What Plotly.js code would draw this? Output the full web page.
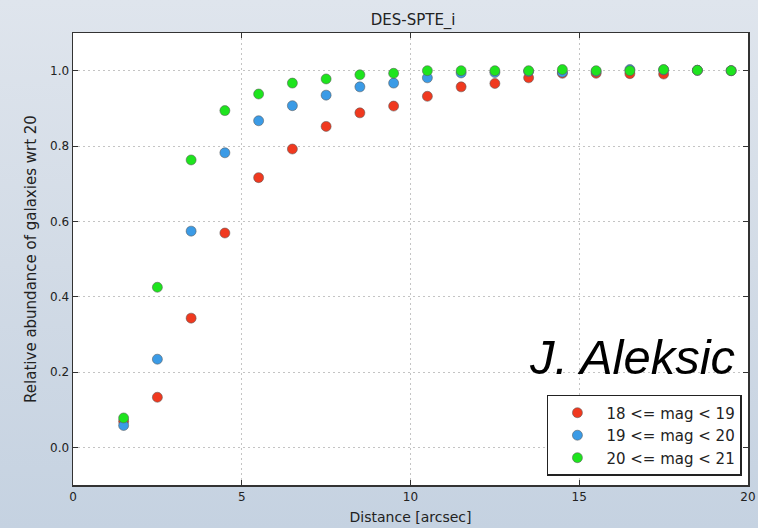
<!DOCTYPE html>
<html>
<head>
<meta charset="utf-8">
<script src="https://cdn.plot.ly/plotly-3.0.1.min.js"></script>
<style>
html,body{margin:0;padding:0;}
body{width:758px;height:528px;background:linear-gradient(180deg,#dfe5ed 0%,#d2dbe6 50%,#c5d2e1 100%);}
#chart{width:758px;height:528px;}
</style>
</head>
<body>
<div id="chart"></div>
<script>
const distance = [1.5,2.5,3.5,4.5,5.5,6.5,7.5,8.5,9.5,10.5,11.5,12.5,13.5,14.5,15.5,16.5,17.5,18.5,19.5];
const mag18_19 = [0.069,0.133,0.343,0.569,0.716,0.792,0.852,0.888,0.906,0.932,0.957,0.966,0.981,0.993,0.993,0.992,0.991,1.001,1.0];
const mag19_20 = [0.058,0.234,0.574,0.782,0.867,0.907,0.935,0.957,0.967,0.981,0.994,0.995,0.998,0.996,0.998,1.003,1.002,1.001,1.0];
const mag20_21 = [0.078,0.425,0.763,0.894,0.938,0.967,0.978,0.989,0.993,1.0,1.0,1.0,1.0,1.003,1.0,1.0,1.003,1.001,1.0];
const seriesNames = ['18 <= mag < 19','19 <= mag < 20','20 <= mag < 21'];
const seriesColors = ['#f0391f','#3b9be6','#1ee41e'];
const seriesData = [mag18_19, mag19_20, mag20_21];

const traces = seriesData.map((vals,i)=>({
  x: distance, y: vals, type:'scatter', mode:'markers', name: seriesNames[i],
  marker:{color: seriesColors[i], size:10, line:{color:'rgba(90,90,90,0.55)', width:1}},
  error_y:{type:'data', array: vals.map(()=>0), visible:true, color: seriesColors[i], thickness:1, width:4}
}));

const layout = {
  width:758, height:528,
  paper_bgcolor:'rgba(0,0,0,0)', plot_bgcolor:'#ffffff',
  margin:{l:73, r:10, t:33, b:43},
  font:{family:'DejaVu Sans, sans-serif', color:'#222222', size:12},
  title:{text:'DES-SPTE_i', x:0.545, xanchor:'center', y:0.962, yanchor:'middle', font:{size:15, color:'#222222'}},
  xaxis:{range:[0,20], tickvals:[0,5,10,15,20], ticks:'inside', ticklen:5, tickcolor:'#333',
    showline:true, linecolor:'#333', linewidth:1.5, mirror:'ticks', zeroline:false,
    showgrid:true, gridcolor:'#c4c4c4', griddash:'2px,3px', gridwidth:1,
    tickfont:{size:12, color:'#222'},
    title:{text:'Distance [arcsec]', font:{size:14, color:'#222'}, standoff:9}},
  yaxis:{range:[-0.1,1.1], tickvals:[0,0.2,0.4,0.6,0.8,1.0], ticktext:['0.0','0.2','0.4','0.6','0.8','1.0'],
    ticks:'inside', ticklen:5, tickcolor:'#333',
    showline:true, linecolor:'#333', linewidth:1.5, mirror:'ticks', zeroline:false,
    showgrid:true, gridcolor:'#c4c4c4', griddash:'2px,3px', gridwidth:1,
    tickfont:{size:12, color:'#222'},
    title:{text:'Relative abundance of galaxies wrt 20', font:{size:15, color:'#222'}, standoff:10}},
  legend:{x:0.991, xanchor:'right', y:0.02, yanchor:'bottom', bgcolor:'#ffffff',
    bordercolor:'#222', borderwidth:1.5, font:{size:15, color:'#222'}, tracegroupgap:2, itemwidth:48},
  showlegend:true,
  annotations:[{text:'<i>J. Aleksic</i>', xref:'paper', yref:'paper', x:0.984, y:0.283, xanchor:'right', yanchor:'middle',
    showarrow:false, font:{family:'Liberation Sans, Arial, sans-serif', size:49, color:'#000'}}]
};
Plotly.newPlot('chart', traces, layout, {displayModeBar:false, staticPlot:true});
</script>
</body>
</html>
